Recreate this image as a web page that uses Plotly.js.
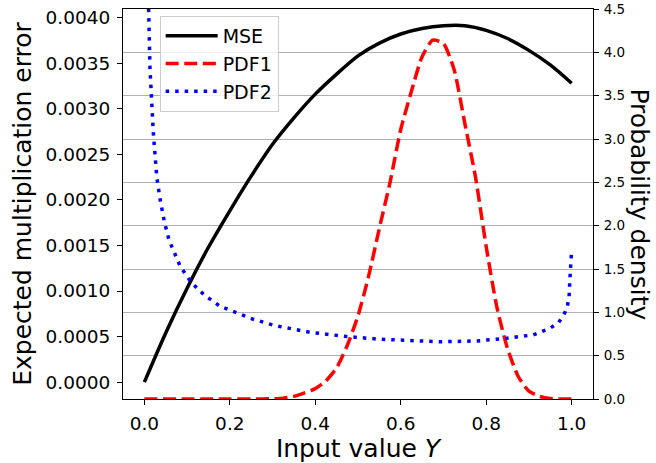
<!DOCTYPE html>
<html>
<head>
<meta charset="utf-8">
<script src="https://cdn.plot.ly/plotly-3.0.1.min.js"></script>
<style>html,body{margin:0;padding:0;background:#fff;}#chart{width:656px;height:463px;}</style>
</head>
<body>
<div id="chart"></div>
<script>
// MSE (left axis)
const mseX = [0, 0.05, 0.1, 0.15, 0.2, 0.25, 0.3, 0.35, 0.4, 0.45, 0.5, 0.55, 0.6, 0.65, 0.7, 0.75, 0.8, 0.85, 0.9, 0.95, 1.0];
const mseY = [0, 0.00054, 0.00103, 0.00148, 0.00188, 0.00226, 0.00261, 0.00290, 0.00316, 0.00338, 0.00358, 0.00372, 0.00382, 0.00388, 0.00391, 0.00391, 0.00386, 0.00377, 0.00364, 0.00348, 0.00328];
// PDF1 (right axis)
const pdf1X = [0, 0.05, 0.1, 0.15, 0.2, 0.25, 0.3, 0.325, 0.35, 0.375, 0.4, 0.425, 0.45, 0.475, 0.5, 0.525, 0.55, 0.575, 0.6, 0.625, 0.65, 0.675, 0.7, 0.725, 0.75, 0.775, 0.8, 0.825, 0.85, 0.875, 0.9, 0.925, 0.95, 0.975, 1.0];
const pdf1Y = [0, 0, 0, 0, 0, 0, 0.003, 0.01, 0.03, 0.07, 0.12, 0.21, 0.36, 0.62, 0.96, 1.42, 1.97, 2.50, 3.11, 3.55, 3.95, 4.14, 4.10, 3.80, 3.18, 2.56, 1.76, 1.06, 0.58, 0.26, 0.09, 0.03, 0.005, 0, 0];
// PDF2 (right axis)
const pdf2X = [0.005, 0.009, 0.013, 0.021, 0.029, 0.037, 0.047, 0.058, 0.068, 0.084, 0.109, 0.14, 0.177, 0.216, 0.255, 0.30, 0.317, 0.388, 0.474, 0.551, 0.629, 0.692, 0.778, 0.848, 0.91, 0.949, 0.969, 0.982, 0.99, 0.994, 0.996, 0.998, 1.0];
const pdf2Y = [5.6, 4.5, 3.83, 3.07, 2.56, 2.30, 2.04, 1.83, 1.72, 1.53, 1.35, 1.20, 1.07, 0.99, 0.92, 0.855, 0.836, 0.77, 0.72, 0.69, 0.673, 0.66, 0.67, 0.70, 0.74, 0.816, 0.88, 0.97, 1.07, 1.18, 1.39, 1.60, 1.72];

const xTicks = [0, 0.2, 0.4, 0.6, 0.8, 1.0];
const leftTicks = [0, 0.0005, 0.001, 0.0015, 0.002, 0.0025, 0.003, 0.0035, 0.004];
const rightTicks = [0, 0.5, 1, 1.5, 2, 2.5, 3, 3.5, 4, 4.5];

const F = 'DejaVu Sans, sans-serif';

const traces = [
  {x: mseX, y: mseY, name: 'MSE', type: 'scatter', mode: 'lines', yaxis: 'y', legendgroup: 'a',
   line: {color: '#000000', width: 3.5, shape: 'spline', smoothing: 0.8}},
  {x: pdf1X, y: pdf1Y, name: 'PDF1', type: 'scatter', mode: 'lines', yaxis: 'y2', legendgroup: 'b',
   line: {color: '#ff0000', width: 3.5, dash: '13px,5.6px', shape: 'spline', smoothing: 0.6}},
  {x: pdf2X, y: pdf2Y, name: 'PDF2', type: 'scatter', mode: 'lines', yaxis: 'y2', legendgroup: 'c',
   line: {color: '#0000ff', width: 3.5, dash: '3.5px,6px'}}
];

const layout = {
  width: 656, height: 463,
  margin: {l: 123, r: 63, t: 9, b: 64},
  paper_bgcolor: '#ffffff', plot_bgcolor: '#ffffff',
  font: {family: F, color: '#000000'},
  showlegend: true,
  legend: {x: 0.078, y: 0.982, xanchor: 'left', yanchor: 'top',
    bgcolor: 'rgba(255,255,255,0.8)', bordercolor: '#cccccc', borderwidth: 1,
    font: {family: F, size: 19, color: '#000000'}, traceorder: 'grouped', tracegroupgap: 0, itemwidth: 52},
  xaxis: {range: [-0.05, 1.05], tickvals: xTicks, tickformat: '.1f', ticks: 'outside', ticklen: 5, tickcolor: '#000',
    ticklabelstandoff: 3,
    showline: true, linecolor: '#000', linewidth: 1, mirror: true, showgrid: false, zeroline: false,
    tickfont: {family: F, size: 18.5},
    title: {text: 'Input value <i>Y</i>', font: {family: F, size: 25}, standoff: 2}},
  yaxis: {range: [-0.000185, 0.004094], tickvals: leftTicks, tickformat: '.4f', ticks: 'outside', ticklen: 5, tickcolor: '#000',
    ticklabelstandoff: 3,
    showline: true, linecolor: '#000', linewidth: 1, showgrid: false, zeroline: false,
    tickfont: {family: F, size: 18.5},
    title: {text: 'Expected multiplication error', font: {family: F, size: 25}, standoff: 6}},
  yaxis2: {range: [0, 4.5], tickvals: rightTicks, tickformat: '.1f', overlaying: 'y', side: 'right', ticks: 'outside', ticklen: 5, tickcolor: '#000',
    ticklabelstandoff: 2,
    showline: true, linecolor: '#000', linewidth: 1, showgrid: true, gridcolor: '#b0b0b0', gridwidth: 1, zeroline: false,
    tickfont: {family: F, size: 13.5}},
  annotations: [{text: 'Probability density', xref: 'paper', yref: 'paper', x: 1.099, y: 0.5,
    xanchor: 'center', yanchor: 'middle', textangle: 90, showarrow: false, font: {family: F, size: 25, color: '#000'}}]
};

Plotly.newPlot('chart', traces, layout, {staticPlot: true, displayModeBar: false});
</script>
</body>
</html>
